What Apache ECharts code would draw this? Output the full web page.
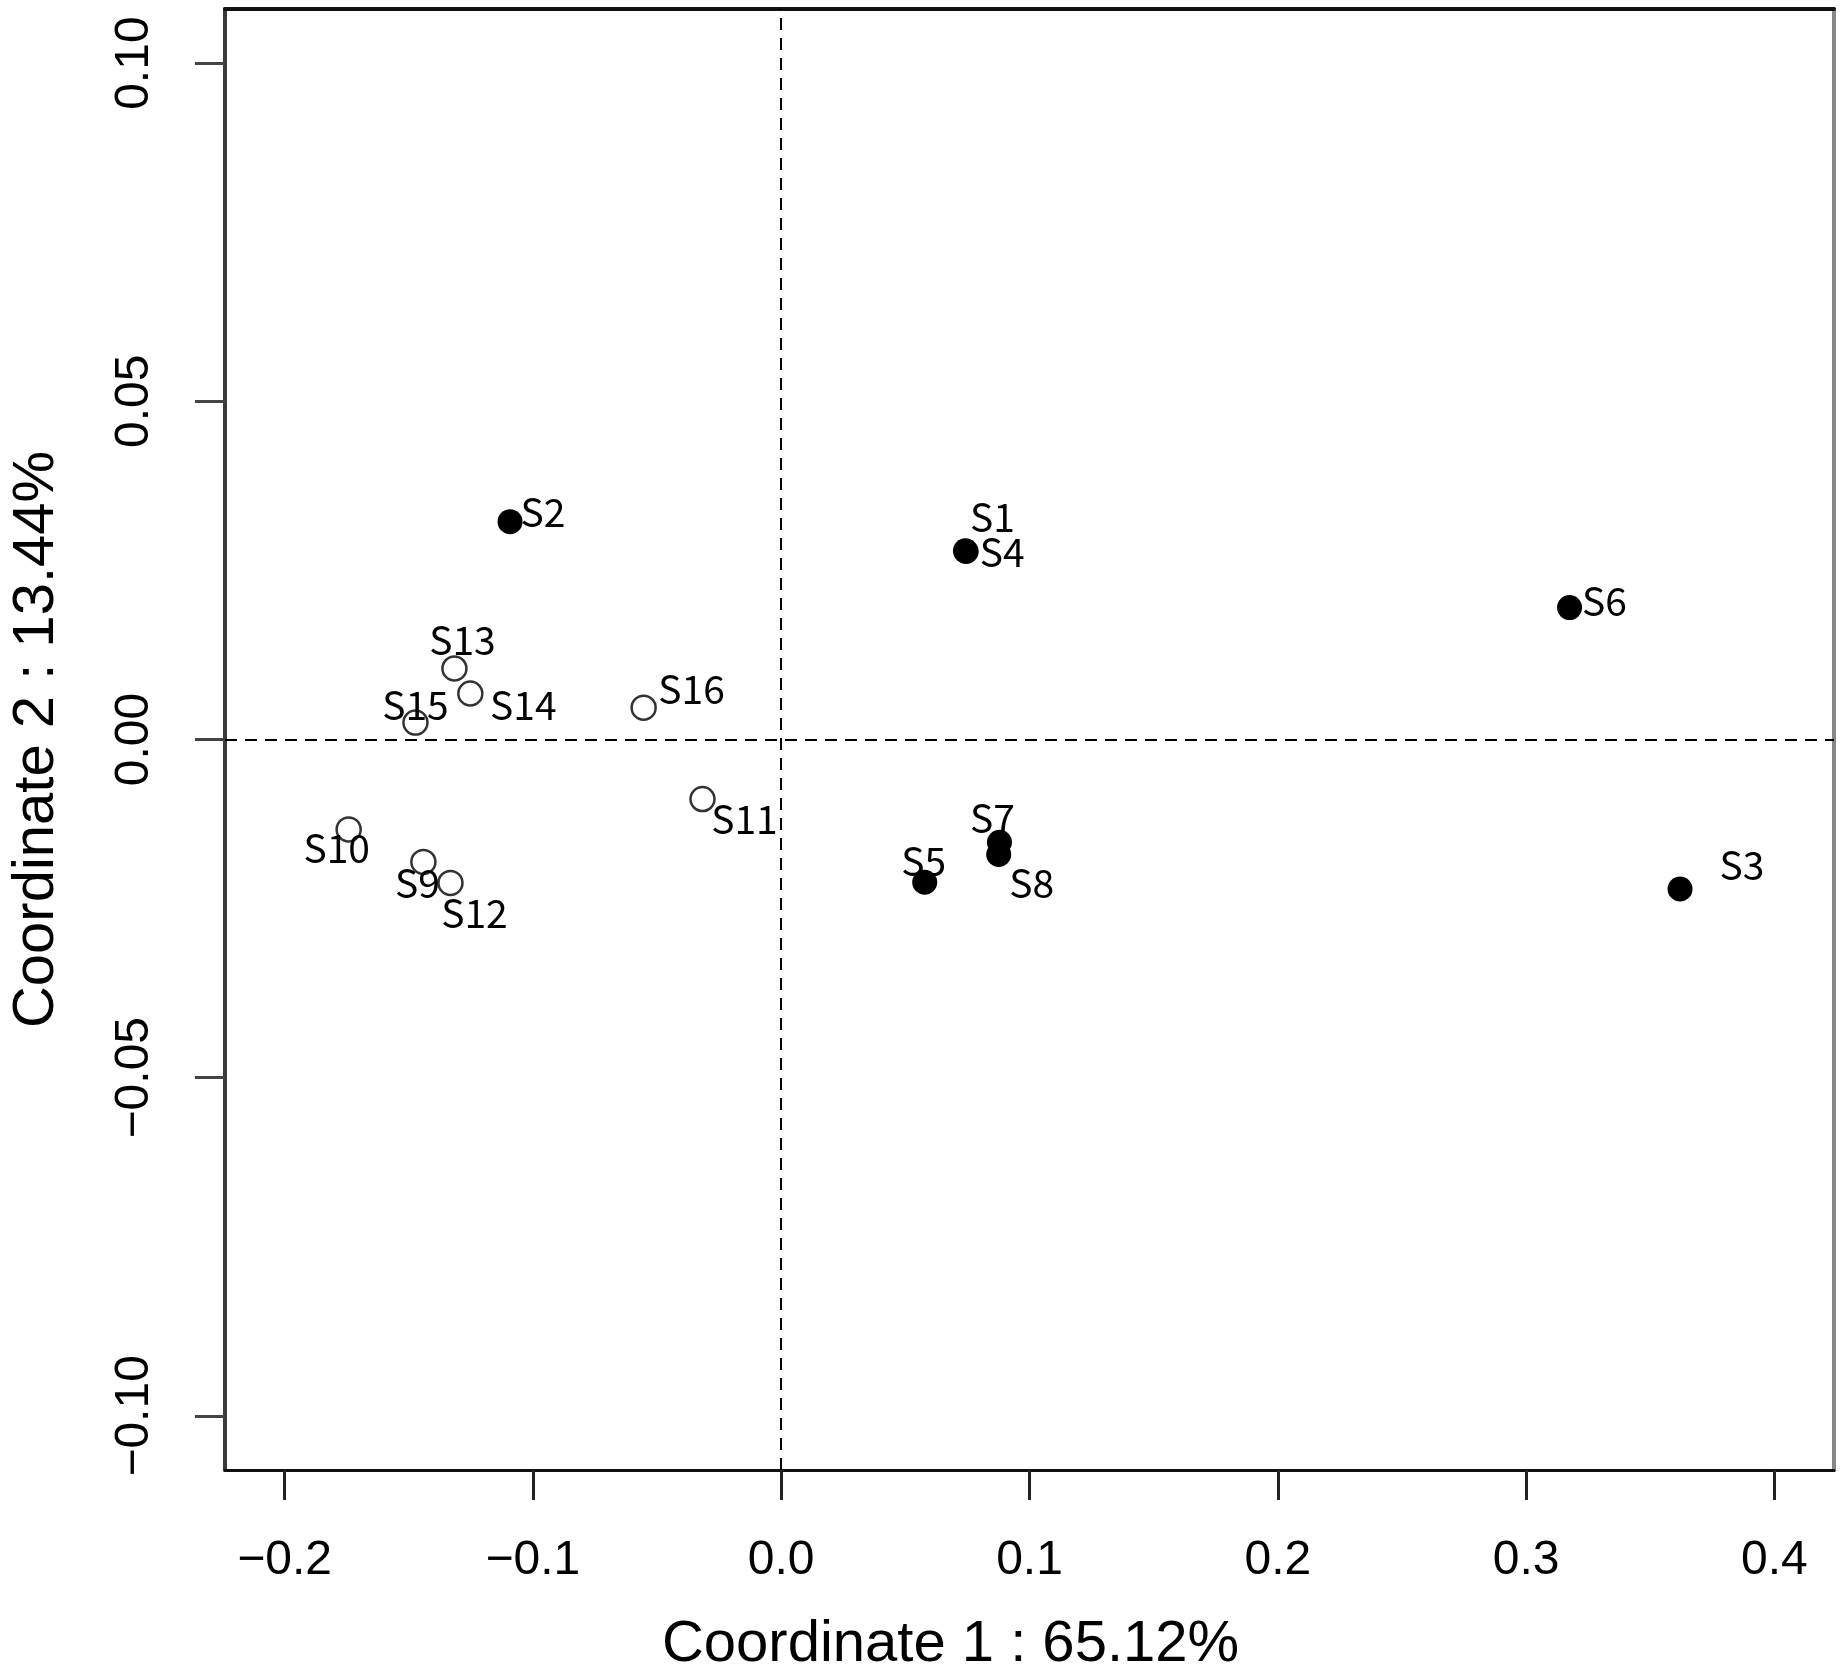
<!DOCTYPE html>
<html lang="en">
<head>
    <meta charset="UTF-8">
    <script src="https://cdn.jsdelivr.net/npm/echarts@6/dist/echarts.min.js"></script>
    <title>PCoA</title>
    <style>
        html, body { margin: 0; padding: 0; background: #fff; }
    </style>
</head>
<body>
<div id="main" style="width: 1845px;height:1679px;"></div>
<script type="text/javascript">
    // sample coordinates
    var samples = ['S1', 'S2', 'S3', 'S4', 'S5', 'S6', 'S7', 'S8',
        'S9', 'S10', 'S11', 'S12', 'S13', 'S14', 'S15', 'S16'];
    var coord1 = [0.0742, -0.1092, 0.3620, 0.0745, 0.0578, 0.3175, 0.0879, 0.0876,
        -0.1441, -0.1742, -0.0317, -0.1332, -0.1316, -0.1252, -0.1473, -0.0554];
    var coord2 = [0.0279, 0.0322, -0.0221, 0.0278, -0.0211, 0.0195, -0.0152, -0.0170,
        -0.0181, -0.0133, -0.0088, -0.0212, 0.0105, 0.0068, 0.0025, 0.0047];
    // filled = first group, open = second group
    var groups = ['A', 'A', 'A', 'A', 'A', 'A', 'A', 'A',
        'B', 'B', 'B', 'B', 'B', 'B', 'B', 'B'];

    var xTicks = [-0.2, -0.1, 0.0, 0.1, 0.2, 0.3, 0.4];
    var yTicks = [-0.10, -0.05, 0.00, 0.05, 0.10];
    var xTitle = 'Coordinate 1 : 65.12%';
    var yTitle = 'Coordinate 2 : 13.44%';

    // where each text label sits relative to its point (px)
    var labelOffset = {
        S1: [27, -34], S2: [33, -10], S3: [62, -24], S4: [36, 1],
        S5: [-1, -21], S6: [35, -6], S7: [-7, -24], S8: [33, 29],
        S9: [-6, 21], S10: [-12, 19], S11: [42, 20], S12: [24, 30],
        S13: [8, -28], S14: [53, 12], S15: [0, -17], S16: [48, -19]
    };

    function fmt(d) {
        return function (v) {
            return (v < -1e-9 ? '\u2212' : '') + Math.abs(v).toFixed(d);
        };
    }

    function groupData(g) {
        var out = [];
        for (var i = 0; i < samples.length; i++) {
            if (groups[i] !== g) continue;
            out.push({
                name: samples[i],
                value: [coord1[i], coord2[i]],
                label: {offset: labelOffset[samples[i]]}
            });
        }
        return out;
    }

    var pointLabel = {
        show: true,
        position: 'inside',
        formatter: '{b}',
        color: '#000',
        opacity: 1,
        fontFamily: 'Noto Sans CJK SC',
        fontSize: 39
    };

    var myChart = echarts.init(document.getElementById('main'));

    var option = {
        backgroundColor: '#fff',
        animation: false,
        grid: {left: 218, right: 11, top: 9, bottom: 203},
        xAxis: [{
            type: 'value',
            min: -0.224,
            max: 0.424,
            name: xTitle,
            nameLocation: 'middle',
            nameGap: 146,
            nameTextStyle: {
                fontFamily: 'Liberation Sans', fontSize: 58, color: '#000',
                padding: [0, 158, 0, 0]
            },
            axisLine: {show: true, onZero: false, lineStyle: {color: '#111', width: 3}},
            axisTick: {show: true, length: 30, customValues: xTicks, lineStyle: {color: '#222', width: 3}},
            axisLabel: {
                customValues: xTicks, margin: 67, formatter: fmt(1),
                fontFamily: 'Liberation Sans', fontSize: 48, color: '#000'
            },
            splitLine: {show: false}
        }, {
            type: 'value', position: 'top', min: -0.224, max: 0.424,
            axisLine: {show: true, onZero: false, lineStyle: {color: '#111', width: 4}},
            axisTick: {show: false}, axisLabel: {show: false}, splitLine: {show: false}
        }],
        yAxis: [{
            type: 'value',
            min: -0.108,
            max: 0.108,
            name: yTitle,
            nameLocation: 'middle',
            nameGap: 159,
            nameTextStyle: {fontFamily: 'Liberation Sans', fontSize: 58, color: '#000'},
            axisLine: {show: true, onZero: false, lineStyle: {color: '#3a3a3a', width: 4}},
            axisTick: {show: true, length: 30, customValues: yTicks, lineStyle: {color: '#444', width: 3}},
            axisLabel: {
                customValues: yTicks, margin: 66, rotate: 90, formatter: fmt(2),
                fontFamily: 'Liberation Sans', fontSize: 48, color: '#000'
            },
            splitLine: {show: false}
        }, {
            type: 'value', position: 'right', min: -0.108, max: 0.108,
            axisLine: {show: true, onZero: false, lineStyle: {color: '#888', width: 4}},
            axisTick: {show: false}, axisLabel: {show: false}, splitLine: {show: false}
        }],
        series: [{
            name: 'filled',
            type: 'scatter',
            symbol: 'circle',
            symbolSize: 25,
            itemStyle: {color: '#000', opacity: 1},
            label: pointLabel,
            data: groupData('A'),
            markLine: {
                silent: true,
                symbol: 'none',
                label: {show: false},
                lineStyle: {color: '#000', width: 2, type: [12, 8], opacity: 1},
                data: [{xAxis: 0}, {yAxis: 0}]
            }
        }, {
            name: 'open',
            type: 'scatter',
            symbol: 'circle',
            symbolSize: 24,
            itemStyle: {color: 'rgba(0,0,0,0)', borderColor: '#333', borderWidth: 2.5, opacity: 1},
            label: pointLabel,
            data: groupData('B')
        }]
    };

    myChart.setOption(option);
</script>
</body>
</html>
